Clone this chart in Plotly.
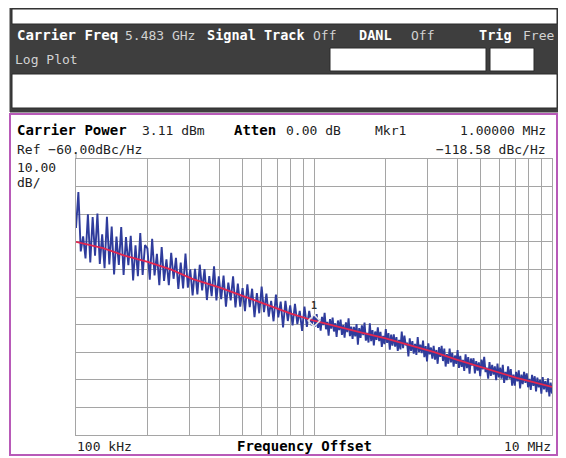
import numpy as np
import plotly.graph_objects as go

# ---------------- data ----------------
START_HZ = 1e5
MID_HZ = 1e6
STOP_HZ = 1e7

# raw phase-noise trace (blue), dBc/Hz, segment 100 kHz .. 1 MHz
blue_seg1 = [
    -85.0, -72.0, -93.5, -88.0, -96.0, -80.0, -97.5, -81.0, -95.0, -79.8,
    -98.0, -87.3, -99.6, -80.9, -98.2, -84.5, -101.8, -88.1, -98.4, -84.7,
    -102.0, -88.3, -98.5, -87.8, -104.0, -91.3, -102.5, -86.8, -102.0, -91.2,
    -92.4, -103.7, -88.9, -102.2, -94.4, -105.7, -91.9, -104.2, -96.4, -105.7,
    -94.0, -103.4, -95.8, -107.1, -97.5, -106.9, -94.3, -106.6, -100.0, -109.4,
    -99.8, -109.1, -98.3, -107.6, -99.9, -111.1, -102.4, -109.7, -98.9, -111.2,
    -102.5, -110.8, -102.2, -113.5, -104.8, -111.2, -102.5, -113.8, -105.1, -113.5,
    -106.8, -115.1, -105.4, -113.7, -107.0, -117.3, -108.6, -115.9, -106.2, -115.5,
    -108.8, -117.1, -111.4, -118.8, -109.1, -117.4, -111.7, -121.0, -111.4, -118.7,
    -113.0, -120.3, -112.5, -119.8, -115.0, -122.3, -113.5, -120.8, -115.0, -120.3,
]
# segment 1 MHz .. 10 MHz
blue_seg2 = [
    -116.7, -120.7, -116.2, -121.2, -118.2, -122.2, -117.2, -120.2, -115.7, -121.7,
    -119.0, -124.0, -118.0, -121.5, -117.5, -122.5, -119.5, -124.5, -118.5, -122.0,
    -118.2, -123.7, -120.2, -124.7, -119.2, -122.7, -117.7, -124.2, -120.7, -125.2,
    -120.8, -124.3, -119.8, -127.3, -121.3, -124.8, -120.3, -123.8, -119.3, -125.8,
    -123.0, -126.5, -119.5, -126.0, -122.0, -127.5, -122.5, -125.5, -121.0, -126.0,
    -122.6, -128.1, -124.1, -127.1, -121.6, -126.6, -123.1, -129.1, -123.6, -127.6,
    -123.5, -128.0, -124.5, -129.5, -125.5, -129.0, -122.5, -128.5, -124.0, -127.5,
    -126.5, -131.5, -125.0, -129.5, -126.0, -130.5, -127.0, -131.0, -124.5, -130.0,
    -127.3, -130.3, -125.8, -131.8, -127.8, -133.3, -126.8, -130.8, -128.3, -132.3,
    -127.7, -132.7, -129.2, -134.2, -128.2, -131.7, -127.7, -133.2, -128.7, -135.2,
    -130.7, -134.2, -128.7, -133.7, -130.2, -135.2, -131.2, -134.2, -129.2, -135.7,
    -131.3, -135.3, -132.8, -136.8, -130.8, -135.8, -131.8, -137.8, -132.3, -134.8,
    -132.2, -137.7, -133.2, -136.7, -133.7, -138.7, -132.7, -136.2, -131.7, -137.2,
    -135.6, -139.6, -133.6, -138.6, -134.6, -138.1, -135.1, -140.1, -134.1, -139.1,
    -135.6, -139.6, -134.6, -141.1, -137.1, -140.1, -135.1, -139.6, -136.1, -142.1,
    -138.1, -142.1, -137.1, -140.6, -136.6, -143.1, -138.1, -141.6, -137.1, -141.1,
    -137.7, -142.7, -139.7, -143.7, -138.2, -142.2, -138.7, -144.2, -139.2, -142.7,
    -140.0, -145.0, -139.0, -143.5, -140.5, -144.5, -139.5, -146.0, -141.0, -145.0,
]

# smoothed trace (red)
smooth_freq = [1e5, 1.3e5, 1.6e5, 2e5, 2.5e5, 3.1e5, 4e5, 5.2e5, 6.5e5, 8e5,
               1e6, 1.3e6, 1.6e6, 2e6, 2.5e6, 3.2e6, 4e6, 5e6, 6e6, 7.1e6, 8.5e6, 1e7]
smooth_vals = [-90.0, -92.3, -95.0, -97.3, -100.0, -103.5, -106.5, -110.0, -113.0, -116.0,
               -118.6, -121.2, -123.0, -125.0, -127.5, -130.0, -132.8, -135.3, -137.2,
               -139.3, -141.0, -142.6]

marker_freq = [1e6]
marker_val = [-118.58]

grid_freqs = [1e5, 2e5, 3e5, 4e5, 5e5, 6e5, 7e5, 8e5, 9e5,
              1e6, 2e6, 3e6, 4e6, 5e6, 6e6, 7e6, 8e6, 9e6, 1e7]

REF_LEVEL = -60
DB_PER_DIV = 10
N_DIV = 10

# sweep grid of the analyser
f1 = np.geomspace(START_HZ, MID_HZ, len(blue_seg1), endpoint=False)
f2 = np.geomspace(MID_HZ, STOP_HZ, len(blue_seg2))
blue_freq = np.concatenate([f1, f2])
blue_vals = blue_seg1 + blue_seg2

# ---------------- layout geometry (pixels of the 566x458 window) ----------------
WIN_W, WIN_H = 566, 458
OFF = 8                      # default page margin around the figure
W, H = WIN_W - OFF, WIN_H - OFF
PL, PR, PT, PB = 76, 552, 159, 435   # plot area in window pixels


def px(x):
    return (x - PL) / (PR - PL)


def py(y):
    return (PB - y) / (PB - PT)


MONO = "DejaVu Sans Mono"
DARK = "#3e3e3e"
LIGHT = "#d2d2d2"

fig = go.Figure()
fig.add_trace(go.Scatter(x=blue_freq, y=blue_vals, mode="lines",
                         line=dict(color="#2f3c9c", width=1.9), hoverinfo="skip"))
fig.add_trace(go.Scatter(x=smooth_freq, y=smooth_vals, mode="lines",
                         line=dict(color="#e3264f", width=1.8), hoverinfo="skip"))
fig.add_trace(go.Scatter(x=marker_freq, y=marker_val, mode="markers",
                         marker=dict(symbol="diamond-open", size=9,
                                     color="#e6e6e6", line=dict(width=1.5, color="#e6e6e6")),
                         hoverinfo="skip"))

shapes = []


def rect(x0, y0, x1, y1, fill, line_color, lw):
    shapes.append(dict(type="rect", xref="paper", yref="paper", layer="below",
                       x0=px(x0), x1=px(x1), y0=py(y1), y1=py(y0),
                       fillcolor=fill, line=dict(color=line_color, width=lw)))


# dark header band and its white boxes
rect(10, 3, 559, 112, DARK, DARK, 1)
rect(12, 9, 557, 24, "white", "#2a2a2a", 1)
rect(330, 48, 486, 71, "white", "#2a2a2a", 1)
rect(490, 48, 534, 71, "white", "#2a2a2a", 1)
rect(12, 74, 557, 108, "white", "#2a2a2a", 1)
# magenta framed plot panel
rect(10, 114, 557, 455, "white", "#b85ab8", 2)
# reference-level tick
shapes.append(dict(type="line", xref="paper", yref="paper",
                   x0=px(76), x1=px(76), y0=py(152), y1=py(159),
                   line=dict(color="#9a9a9a", width=1)))

ann = []


def text(x, y, s, color="black", size=13, anchor="left", bold=False):
    ann.append(dict(xref="paper", yref="paper", x=px(x), y=py(y),
                    text=("<b>%s</b>" % s) if bold else s, showarrow=False,
                    xanchor=anchor, yanchor="middle",
                    font=dict(family=MONO, size=size, color=color)))


# header row
text(15, 35, "Carrier Freq", "white", 14, bold=True)
text(123, 35, "5.483 GHz", LIGHT, 13)
text(205, 35, "Signal Track", "white", 13.5, bold=True)
text(311, 35, "Off", LIGHT, 13)
text(357, 35, "DANL", "white", 13.5, bold=True)
text(409, 35, "Off", LIGHT, 13)
text(477, 35, "Trig", "white", 13.5, bold=True)
text(556, 35, "Free", LIGHT, 13, anchor="right")
text(13, 60, "Log Plot", LIGHT, 13)

# plot header
text(15, 130, "Carrier Power", "black", 14, bold=True)
text(140, 130, "3.11 dBm", "#222", 13)
text(232, 130, "Atten", "black", 14, bold=True)
text(284, 130, "0.00 dB", "#222", 13)
text(373, 130, "Mkr1", "#222", 13)
text(548, 130, "1.00000 MHz", "#222", 13, anchor="right")
text(15, 149, "Ref \u221260.00dBc/Hz", "#222", 13)
text(548, 149, "\u2212118.58 dBc/Hz", "#222", 13, anchor="right")
text(15, 167, "10.00", "#222", 13)
text(15, 182, "dB/", "#222", 13)

# x labels
text(75, 446, "100 kHz", "#222", 13)
text(304, 446, "Frequency Offset", "black", 14, anchor="center", bold=True)
text(553, 446, "10 MHz", "#222", 13, anchor="right")

# marker label
ann.append(dict(x=np.log10(marker_freq[0]), y=marker_val[0] + 5.5, xref="x", yref="y",
                text="<b>1</b>", showarrow=False,
                font=dict(family=MONO, size=10, color="#333")))

fig.update_layout(
    width=W, height=H,
    margin=dict(l=PL - OFF, r=W - (PR - OFF), t=PT - OFF, b=H - (PB - OFF), pad=0),
    paper_bgcolor="white", plot_bgcolor="white",
    showlegend=False,
    shapes=shapes, annotations=ann,
    xaxis=dict(type="log", range=[np.log10(START_HZ), np.log10(STOP_HZ)],
               tickmode="array", tickvals=grid_freqs, showticklabels=False,
               ticks="", showgrid=True, gridcolor="#a5a5a5", gridwidth=1.3,
               showline=True, linecolor="#a5a5a5", linewidth=1.3, mirror=True,
               zeroline=False, fixedrange=True),
    yaxis=dict(range=[REF_LEVEL - N_DIV * DB_PER_DIV, REF_LEVEL], dtick=DB_PER_DIV,
               tick0=REF_LEVEL, showticklabels=False, ticks="",
               showgrid=True, gridcolor="#a5a5a5", gridwidth=1.3,
               showline=True, linecolor="#a5a5a5", linewidth=1.3, mirror=True,
               zeroline=False, fixedrange=True),
)

fig.write_html("out.html")
